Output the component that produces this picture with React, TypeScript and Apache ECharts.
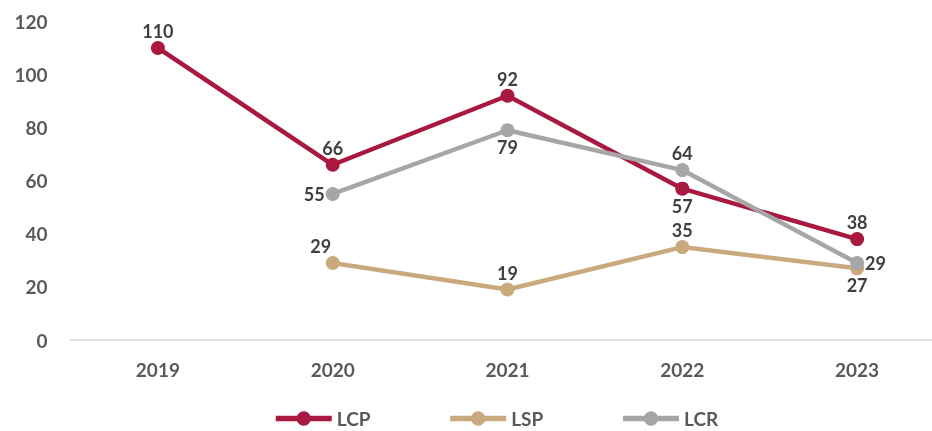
import React, { useEffect, useRef } from "react";
import * as echarts from "echarts";

const categories = ["2019", "2020", "2021", "2022", "2023"];
const lcp = [110, 66, 92, 57, 38];
const lsp = [null, 29, 19, 35, 27];
const lcr = [null, 55, 79, 64, 29];
const lcpPos = ["top", "top", "top", "bottom", "top"];
const lspPos = ["top", "top", "top", "top", "bottom"];
const lcrPos = ["left", "left", "bottom", "top", "right"];

const FONT = "Lato";
const LABEL_COLOR = "#404040";

function mkData(vals: (number | null)[], pos: string[], offsets?: Record<number, number[]>) {
  return vals.map((v, i) =>
    v === null
      ? null
      : {
          value: v,
          label: { position: pos[i], offset: offsets && offsets[i] ? offsets[i] : [0, 0] },
        }
  );
}

export default function App() {
  const ref = useRef<HTMLDivElement>(null);
  useEffect(() => {
    if (!ref.current) return;
    const chart = echarts.init(ref.current, null, { renderer: "svg" });
    const label = {
      show: true,
      color: LABEL_COLOR,
      fontFamily: FONT,
      fontWeight: "bold",
      fontSize: 18,
      distance: 1,
    };
    const mk = (name: string, color: string, data: any) => ({
      name,
      type: "line",
      data,
      symbol: "circle",
      symbolSize: 14,
      itemStyle: { color },
      lineStyle: { color, width: 4.5 },
      label,
      connectNulls: false,
    });
    chart.setOption({
      animation: false,
      grid: { left: 70.5, top: 21.4, width: 874, height: 318.6, containLabel: false },
      legend: {
        top: 409,
        left: 273,
        padding: 0,
        itemWidth: 56,
        itemHeight: 18,
        itemGap: 77,
        lineStyle: { width: 5.5 },
        textStyle: {
          color: "#595959",
          fontFamily: FONT,
          fontWeight: "bold",
          fontSize: 19,
        },
        data: ["LCP", "LSP", "LCR"],
      },
      xAxis: {
        type: "category",
        data: categories,
        axisLine: { lineStyle: { color: "#d9d9d9", width: 1.5 } },
        axisTick: { show: false },
        axisLabel: {
          color: "#595959",
          fontFamily: FONT,
          fontWeight: "bold",
          fontSize: 19,
          margin: 20,
        },
      },
      yAxis: {
        type: "value",
        min: 0,
        max: 120,
        interval: 20,
        splitLine: { show: false },
        axisLine: { show: false },
        axisTick: { show: false },
        axisLabel: {
          color: "#595959",
          fontFamily: FONT,
          fontWeight: "bold",
          fontSize: 19,
          margin: 23,
        },
      },
      series: [
        mk("LCP", "#A8183F", mkData(lcp, lcpPos)),
        mk("LSP", "#C9AA7E", mkData(lsp, lspPos, { 1: [-12, 0] })),
        mk("LCR", "#A6A6A6", mkData(lcr, lcrPos)),
      ],
    });
    return () => chart.dispose();
  }, []);
  return (
    <div
      style={{
        position: "fixed",
        left: 0,
        top: 0,
        width: 932,
        height: 431,
        overflow: "hidden",
      }}
    >
      <div ref={ref} style={{ width: 950, height: 431 }} />
    </div>
  );
}
